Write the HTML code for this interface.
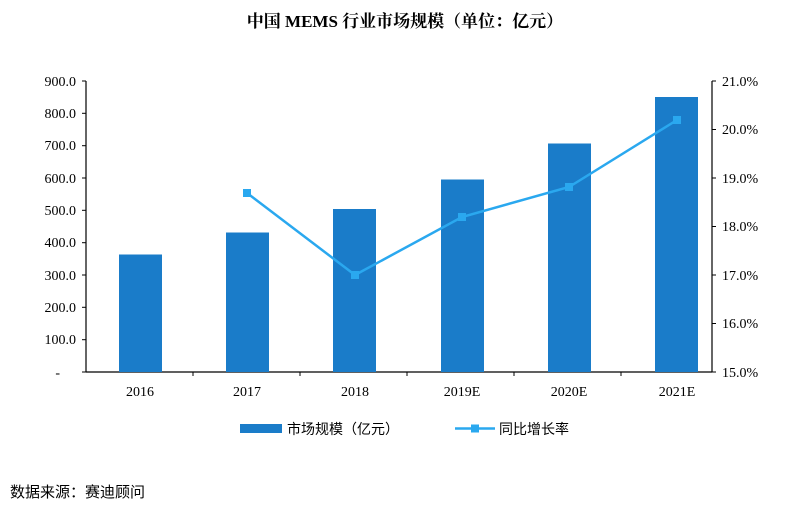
<!DOCTYPE html>
<html><head><meta charset="utf-8"><style>
body{margin:0;background:#fff;width:810px;height:510px;overflow:hidden}
text{font-family:"Liberation Serif","Noto Serif CJK SC",serif;fill:#000}
.cjk{font-family:"Liberation Sans","Noto Sans CJK SC",sans-serif}
</style></head><body>
<svg width="810" height="510" xmlns="http://www.w3.org/2000/svg">
<text x="405" y="27" text-anchor="middle" font-size="17" font-weight="bold" class="cjk" style="font-family:'Liberation Serif','Noto Serif CJK SC',serif">中国 MEMS 行业市场规模（单位：亿元）</text>
<g stroke="#000" stroke-width="1.2" fill="none">
<line x1="86" y1="81" x2="86" y2="372"/>
<line x1="712" y1="81" x2="712" y2="372"/>
<line x1="86" y1="372" x2="712" y2="372"/>
</g>
<g stroke="#000" stroke-width="1">
<line x1="82" y1="81" x2="86" y2="81"/><line x1="82" y1="113.3" x2="86" y2="113.3"/><line x1="82" y1="145.7" x2="86" y2="145.7"/><line x1="82" y1="178" x2="86" y2="178"/><line x1="82" y1="210.3" x2="86" y2="210.3"/><line x1="82" y1="242.7" x2="86" y2="242.7"/><line x1="82" y1="275" x2="86" y2="275"/><line x1="82" y1="307.3" x2="86" y2="307.3"/><line x1="82" y1="339.7" x2="86" y2="339.7"/><line x1="82" y1="372" x2="86" y2="372"/>
<line x1="712" y1="81" x2="716" y2="81"/><line x1="712" y1="129.5" x2="716" y2="129.5"/><line x1="712" y1="178" x2="716" y2="178"/><line x1="712" y1="226.5" x2="716" y2="226.5"/><line x1="712" y1="275" x2="716" y2="275"/><line x1="712" y1="323.5" x2="716" y2="323.5"/><line x1="712" y1="372" x2="716" y2="372"/>
<line x1="193" y1="372" x2="193" y2="376"/><line x1="300" y1="372" x2="300" y2="376"/><line x1="407" y1="372" x2="407" y2="376"/><line x1="514" y1="372" x2="514" y2="376"/><line x1="621" y1="372" x2="621" y2="376"/>
</g>
<g font-size="14" text-anchor="end">
<text x="76" y="86">900.0</text><text x="76" y="118">800.0</text><text x="76" y="150">700.0</text><text x="76" y="183">600.0</text><text x="76" y="215">500.0</text><text x="76" y="247">400.0</text><text x="76" y="280">300.0</text><text x="76" y="312">200.0</text><text x="76" y="344">100.0</text><text x="60" y="377">-</text>
</g>
<g font-size="14" text-anchor="start">
<text x="722" y="86">21.0%</text><text x="722" y="134">20.0%</text><text x="722" y="183">19.0%</text><text x="722" y="231">18.0%</text><text x="722" y="280">17.0%</text><text x="722" y="328">16.0%</text><text x="722" y="377">15.0%</text>
</g>
<g fill="#1a7cc9">
<rect x="119" y="254.5" width="43" height="117.5"/>
<rect x="226" y="232.5" width="43" height="139.5"/>
<rect x="333" y="209" width="43" height="163"/>
<rect x="441" y="179.5" width="43" height="192.5"/>
<rect x="548" y="143.5" width="43" height="228.5"/>
<rect x="655" y="97" width="43" height="275"/>
</g>
<polyline points="247,193 355,275 462,217 569,187 677,120" fill="none" stroke="#2aa8ef" stroke-width="2.5"/>
<g fill="#2aa8ef">
<rect x="243" y="189" width="8" height="8"/><rect x="351" y="271" width="8" height="8"/><rect x="458" y="213" width="8" height="8"/><rect x="565" y="183" width="8" height="8"/><rect x="673" y="116" width="8" height="8"/>
</g>
<g font-size="14" text-anchor="middle">
<text x="140" y="396">2016</text><text x="247" y="396">2017</text><text x="355" y="396">2018</text><text x="462" y="396">2019E</text><text x="569" y="396">2020E</text><text x="677" y="396">2021E</text>
</g>
<rect x="240" y="424" width="42" height="9" fill="#1a7cc9"/>
<text x="287" y="434" font-size="14" class="cjk">市场规模（亿元）</text>
<line x1="455" y1="428.5" x2="495" y2="428.5" stroke="#2aa8ef" stroke-width="2.5"/>
<rect x="471" y="424.5" width="8" height="8" fill="#2aa8ef"/>
<text x="499" y="434" font-size="14" class="cjk">同比增长率</text>
<text x="10" y="497" font-size="15" class="cjk">数据来源：赛迪顾问</text>
</svg>
</body></html>
